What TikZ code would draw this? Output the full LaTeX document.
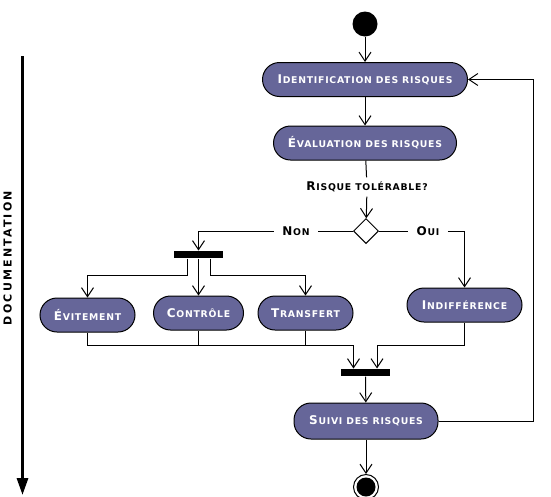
\documentclass[tikz,border=0pt]{standalone}
\usepackage{fontspec}
\setmainfont{DejaVu Sans}
\usetikzlibrary{arrows.meta,shapes.geometric}

\definecolor{ardoise}{RGB}{102,102,153}
\newcommand{\pcap}[2]{{\fontsize{12}{12}\selectfont #1}\kern0.8pt{\fontsize{9.3}{10}\selectfont\addfontfeature{LetterSpace=8} #2}}

\tikzset{
  activite/.style={rectangle,rounded corners=17pt,draw=black,fill=ardoise,text=white,font=\bfseries,minimum height=34pt,inner sep=0pt},
  barre/.style={rectangle,fill=black,minimum width=49pt,minimum height=7pt,inner sep=0pt},
  fleche/.style={-{Straight Barb[length=9pt,width=12pt]}},
  etiquette/.style={font=\bfseries,inner xsep=8pt,inner ysep=4pt}
}

\begin{document}
\begin{tikzpicture}[x=1pt,y=-1pt,line width=1pt]
\useasboundingbox (0,0) rectangle (551,496);

\node[circle,fill=black,minimum size=25pt,inner sep=0pt] (debut) at (365,24) {};
\node[activite,minimum width=205pt] (ident) at (365,79.5) {\pcap{I}{DENTIFICATION DES RISQUES}};
\node[activite,minimum width=183pt] (eval) at (365,143) {\pcap{É}{VALUATION DES RISQUES}};
\node[etiquette] (question) at (367,187) {\pcap{R}{ISQUE TOLÉRABLE?}};
\node[diamond,draw,fill=white,minimum width=25pt,minimum height=25pt,inner sep=0pt] (choix) at (366,231) {};
\node[etiquette] (non) at (296,231) {\pcap{N}{ON}};
\node[etiquette] (oui) at (428,231) {\pcap{O}{UI}};

\node[barre] (fourche) at (198.5,254.5) {};
\node[activite,minimum width=95pt] (evit) at (87.5,315) {\pcap{É}{VITEMENT}};
\node[activite,minimum width=90pt] (contr) at (198.5,313) {\pcap{C}{ONTRÔLE}};
\node[activite,minimum width=95pt] (transf) at (305.5,313) {\pcap{T}{RANSFERT}};
\node[activite,minimum width=115pt] (indiff) at (464.5,305) {\pcap{I}{NDIFFÉRENCE}};

\node[barre] (jonction) at (365.5,372.5) {};
\node[activite,minimum width=144pt,minimum height=36pt] (suivi) at (366,421) {\pcap{S}{UIVI DES RISQUES}};
\node[circle,draw,minimum size=25pt,inner sep=0pt] (fin) at (366,487) {};
\node[circle,fill=black,minimum size=19pt,inner sep=0pt] (finc) at (fin) {};

\coordinate (mg) at (353.5,345);
\coordinate (md) at (377,345);
\coordinate (retour) at (533,79.5);

\draw[fleche] (debut) -- (ident);
\draw[fleche] (ident) -- (eval);
\draw (eval) -- (question);
\draw[fleche] (question) -- (choix);
\draw (choix) -- (non);
\draw[fleche] (non) -| (fourche);
\draw (choix) -- (oui);
\draw[fleche] (oui) -| (indiff);

\draw[fleche] ([xshift=-11.5pt]fourche.south) -- ++(0,17) -| (evit);
\draw[fleche] (fourche) -- (contr);
\draw[fleche] ([xshift=11.5pt]fourche.south) -- ++(0,17) -| (transf);

\draw[fleche] (evit) |- (mg) -- (mg |- jonction.north);
\draw (contr) -- (contr |- mg);
\draw (transf) -- (transf |- mg);
\draw[fleche] (indiff) |- (md) -- (md |- jonction.north);

\draw[fleche] (jonction) -- (suivi);
\draw[fleche] (suivi) -- (fin);
\draw[fleche] (suivi) -| (retour) -- (ident);

% axe documentation
\coordinate (haut) at (22.5,56);
\coordinate (bas) at (22.5,495);
\draw[line width=3pt,-{Triangle[length=17pt,width=11pt]}] (haut) -- (bas);
\node[rotate=90,font=\bfseries\fontsize{11}{12}\selectfont\addfontfeature{LetterSpace=20}] (doc) at (7.5,258) {DOCUMENTATION};
\end{tikzpicture}
\end{document}
